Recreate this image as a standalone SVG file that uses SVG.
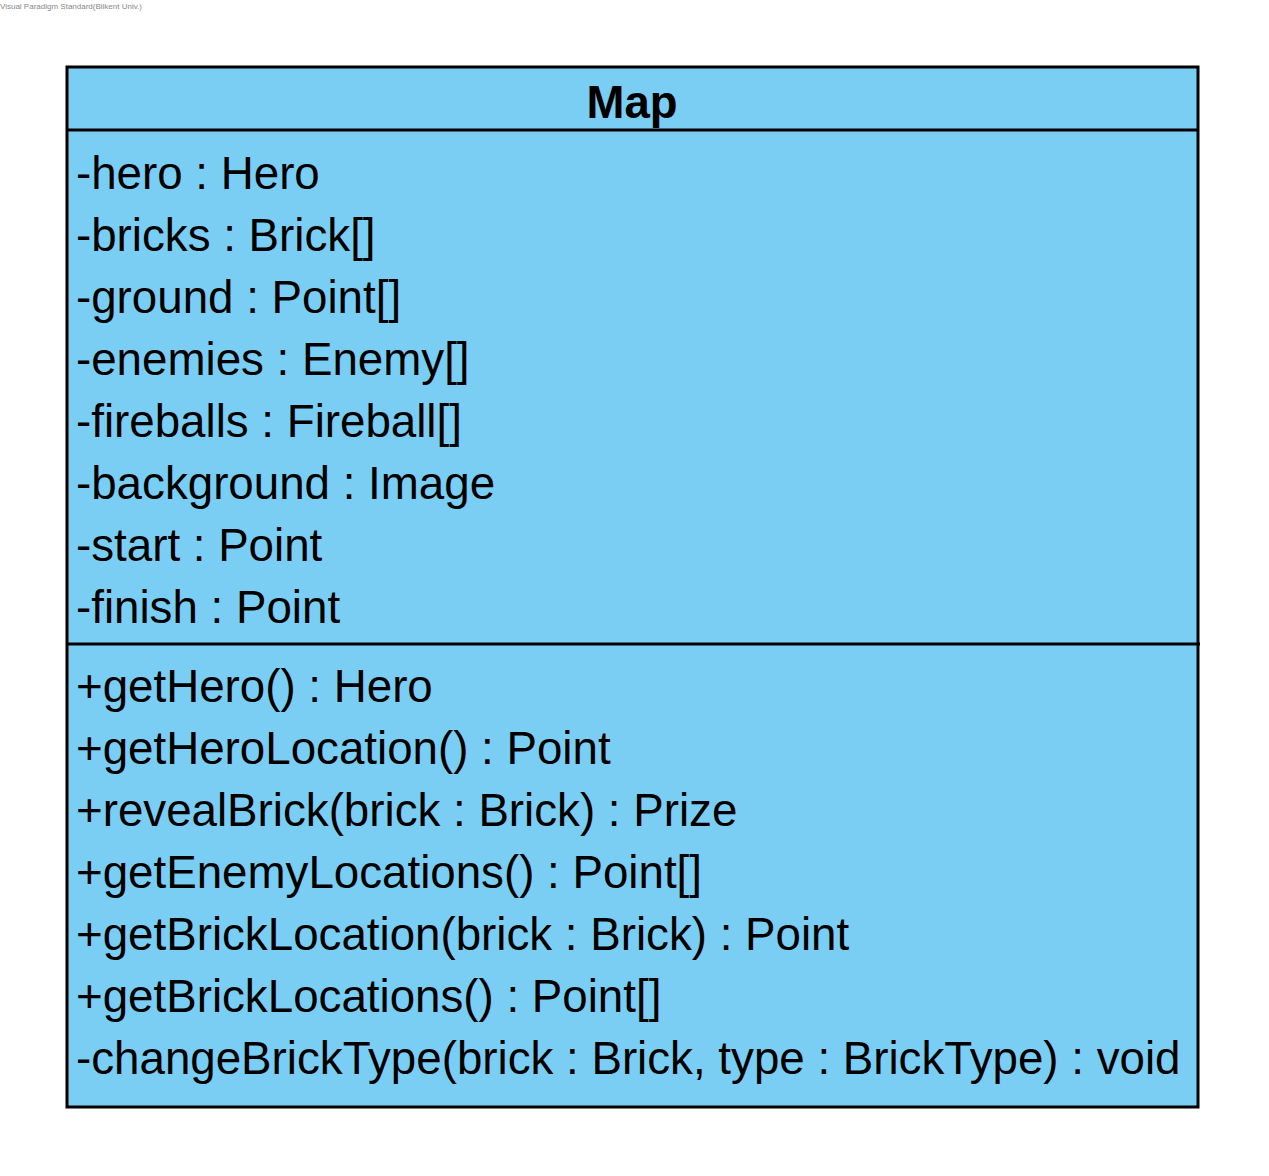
<svg xmlns="http://www.w3.org/2000/svg" width="1269" height="1176" viewBox="0 0 1269 1176">
<style>
.t{font-family:"Liberation Sans",Arial,sans-serif;font-size:45.7px;fill:#000}
.b{font-weight:bold;font-size:45.5px}
.box{fill:#7ACEF4;stroke:#000;stroke-width:3}
.ln{stroke:#000;stroke-width:3}
.wm{font-family:"Liberation Sans",Arial,sans-serif;font-size:8px;fill:#888}
</style>
<rect width="1269" height="1176" fill="#fff"/>
<text class="wm" x="0" y="9">Visual Paradigm Standard(Bilkent Univ.)</text>
<g id="Map">
<rect class="box" x="67" y="67" width="1131" height="1040"/>
<line class="ln" x1="67" y1="130" x2="1198" y2="130"/>
<line class="ln" x1="67" y1="644" x2="1200" y2="644"/>
<text class="t b" x="632" y="118" text-anchor="middle">Map</text>
<text class="t" x="76" y="189">-hero : Hero</text>
<text class="t" x="76" y="251">-bricks : Brick[]</text>
<text class="t" x="76" y="313">-ground : Point[]</text>
<text class="t" x="76" y="375">-enemies : Enemy[]</text>
<text class="t" x="76" y="437">-fireballs : Fireball[]</text>
<text class="t" x="76" y="499">-background : Image</text>
<text class="t" x="76" y="561">-start : Point</text>
<text class="t" x="76" y="623">-finish : Point</text>
<text class="t" x="76" y="702">+getHero() : Hero</text>
<text class="t" x="76" y="764">+getHeroLocation() : Point</text>
<text class="t" x="76" y="826">+revealBrick(brick : Brick) : Prize</text>
<text class="t" x="76" y="888">+getEnemyLocations() : Point[]</text>
<text class="t" x="76" y="950">+getBrickLocation(brick : Brick) : Point</text>
<text class="t" x="76" y="1012">+getBrickLocations() : Point[]</text>
<text class="t" x="76" y="1074">-changeBrickType(brick : Brick, type : BrickType) : void</text>
</g>
<g id="connectors"/>
</svg>
